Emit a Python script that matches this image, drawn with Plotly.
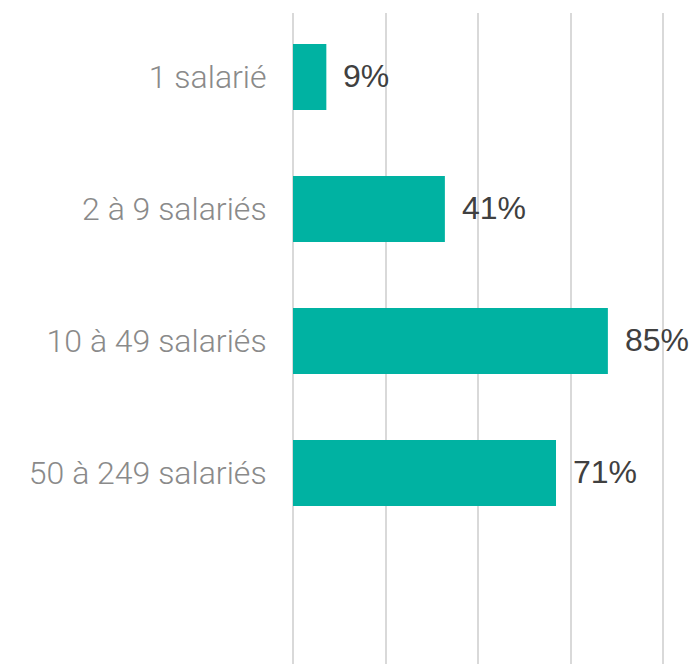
import plotly.graph_objects as go

categories = ["1 salarié", "2 à 9 salariés", "10 à 49 salariés", "50 à 249 salariés"]
values = [9, 41, 85, 71]
value_labels = ["9%", "41%", "85%", "71%"]

BAR_COLOR = "#00B2A2"
GRID_COLOR = "#D9D9D9"

positions = list(range(len(categories)))

fig = go.Figure()
fig.add_trace(go.Bar(
    x=values,
    y=positions,
    orientation="h",
    width=0.5,
    marker=dict(color=BAR_COLOR, line=dict(width=0)),
    hoverinfo="skip",
))

# étiquettes de valeur à droite des barres
for v, p, lab in zip(values, positions, value_labels):
    fig.add_annotation(
        x=v, y=p, text=lab, showarrow=False,
        xanchor="left", yanchor="middle", xshift=15, yshift=1,
        font=dict(family="Liberation Sans, Arial", size=32, color="#404040"),
    )

fig.update_layout(
    width=692, height=664,
    margin=dict(l=293, r=23, t=13, b=0),
    plot_bgcolor="white", paper_bgcolor="white",
    showlegend=False,
    xaxis=dict(
        range=[0, 101.5], tickvals=[0, 25, 50, 75, 100], showticklabels=False,
        showgrid=True, gridcolor=GRID_COLOR, gridwidth=1.5,
        zeroline=True, zerolinecolor=GRID_COLOR, zerolinewidth=1.5,
        showline=False, fixedrange=True,
    ),
    yaxis=dict(
        range=[4.447, -0.485],
        tickvals=positions, ticktext=categories,
        showgrid=False, zeroline=False, showline=False,
        ticks="outside", ticklen=19, tickcolor="rgba(0,0,0,0)",
        tickfont=dict(family="Roboto Light, Roboto", size=32, color="#8A8A8A", weight=300),
        fixedrange=True,
    ),
)

fig.write_html(
    "out.html",
    config={"displayModeBar": False},
    post_script="document.body.style.margin='0';document.body.style.overflow='hidden';",
)
